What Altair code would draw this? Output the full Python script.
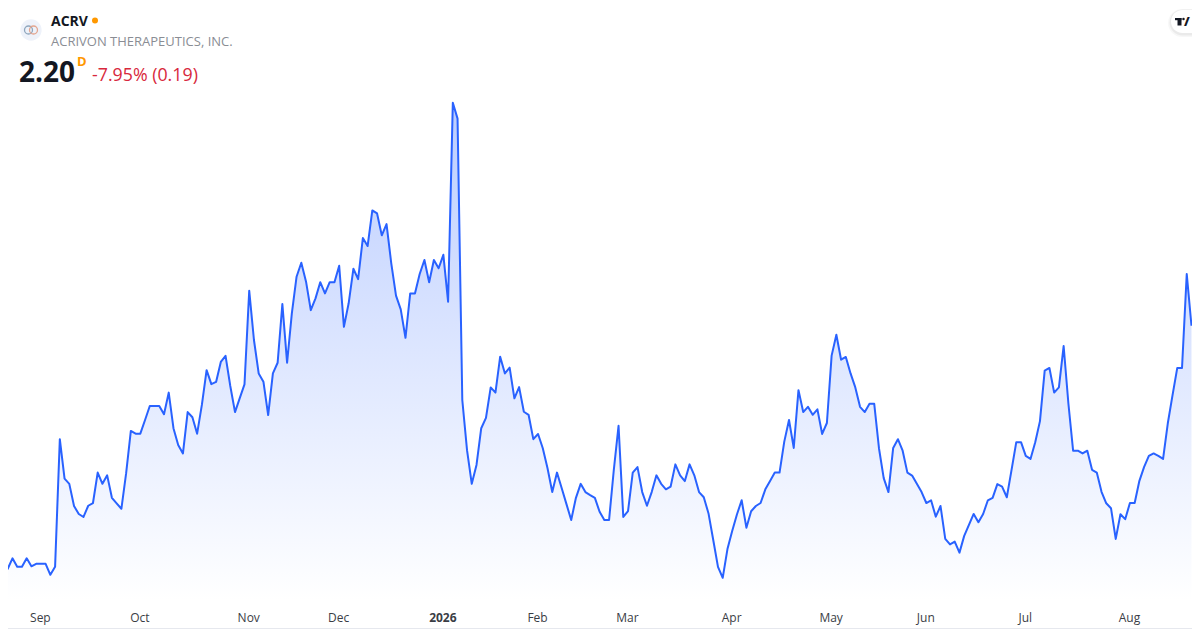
import altair as alt
import pandas as pd

prices = [
1.295,1.314,1.352,1.321,1.321,1.352,1.323,1.332,1.332,1.332,1.292,1.321,1.787,1.643,1.624,1.543,1.514,1.503,1.544,1.554,
1.665,1.624,1.655,1.573,1.553,1.533,1.662,1.817,1.807,1.807,1.857,1.908,1.908,1.908,1.878,1.957,1.827,1.766,1.735,1.886,
1.867,1.807,1.912,2.039,1.988,1.996,2.069,2.091,1.981,1.886,1.937,1.987,2.329,2.149,2.027,1.997,1.875,2.027,2.066,2.280,
2.066,2.246,2.380,2.431,2.362,2.258,2.301,2.360,2.319,2.360,2.360,2.420,2.197,2.283,2.409,2.371,2.521,2.492,2.622,2.611,
2.531,2.572,2.429,2.311,2.261,2.157,2.319,2.319,2.390,2.441,2.360,2.441,2.411,2.460,2.289,3.015,2.957,1.930,1.747,1.624,
1.693,1.827,1.865,1.976,1.957,2.088,2.027,2.048,1.936,1.977,1.887,1.876,1.787,1.806,1.754,1.681,1.594,1.665,1.608,1.550,
1.492,1.573,1.624,1.594,1.583,1.573,1.522,1.492,1.492,1.675,1.836,1.503,1.524,1.665,1.685,1.594,1.544,1.594,1.655,1.624,
1.604,1.614,1.695,1.655,1.634,1.695,1.655,1.594,1.575,1.516,1.419,1.321,1.281,1.386,1.452,1.512,1.564,1.464,1.524,1.543,
1.554,1.604,1.634,1.665,1.665,1.778,1.857,1.755,1.966,1.886,1.905,1.876,1.896,1.806,1.846,2.092,2.168,2.077,2.087,2.027,
1.976,1.905,1.886,1.916,1.916,1.754,1.645,1.594,1.755,1.787,1.745,1.665,1.654,1.624,1.594,1.554,1.564,1.504,1.543,1.423,
1.403,1.413,1.373,1.434,1.474,1.514,1.484,1.514,1.564,1.573,1.623,1.614,1.575,1.675,1.776,1.776,1.726,1.715,1.776,1.853,
2.037,2.047,1.957,1.976,2.127,1.918,1.745,1.745,1.735,1.745,1.675,1.665,1.595,1.553,1.535,1.423,1.513,1.495,1.554,1.554,
1.635,1.686,1.726,1.735,1.726,1.715,1.845,1.948,2.047,2.047,2.390,2.201,
]
tick_days = [8, 29, 52, 71, 93, 113, 132, 154, 175, 195, 216, 238]
tick_labels = ["Sep", "Oct", "Nov", "Dec", "2026", "Feb", "Mar", "Apr", "May", "Jun", "Jul", "Aug"]

df = pd.DataFrame({"day": range(len(prices)), "price": prices})
W, H = 1184, 592
label_expr = "{" + ",".join(f"'{d}':'{l}'" for d, l in zip(tick_days, tick_labels)) + "}[''+datum.value]"

x = alt.X("day:Q", scale=alt.Scale(domain=[1.056, 251.11], nice=False, zero=False),
          axis=alt.Axis(values=tick_days, labelExpr=label_expr, title=None, grid=False, ticks=False, domain=False,
                        labelPadding=17.5, labelBaseline="middle", labelFont="Open Sans", labelFontSize=12,
                        labelColor="#3a3d45", labelOverlap=False, labelFlush=False, labelOffset=-1,
                        labelFontWeight=alt.condition("datum.value == 93", alt.value(700), alt.value(400))))
y = alt.Y("price:Q", scale=alt.Scale(domain=[1.2, 3.3608], nice=False, zero=False), axis=None, stack=False)

area = alt.Chart(df).mark_area(
    line=False,
    opacity=1,
    color=alt.Gradient(gradient="linear", x1=1, x2=1, y1=0, y2=1, stops=[
        alt.GradientStop(color="#bbcdff", offset=0),
        alt.GradientStop(color="#ffffff", offset=1),
    ]),
).encode(x=x, y=y, y2=alt.value(H))
line = alt.Chart(df).mark_line(color="#2962ff", strokeWidth=2, strokeJoin="round").encode(x=x, y=y)


def px(v):
    return alt.value(v - 8)


one = alt.Data(values=[{"a": 1}])


def text(s, x0, y0, **kw):
    return alt.Chart(one).mark_text(text=s, align="left", baseline="middle", font="Open Sans", **kw).encode(
        x=px(x0), y=px(y0))


def dot(x0, y0, size, **kw):
    return alt.Chart(one).mark_point(shape="circle", size=size, **kw).encode(x=px(x0), y=px(y0))


def box(x0, x1, y0, y1, **kw):
    return alt.Chart(one).mark_rect(**kw).encode(x=px(x0), x2=px(x1), y=px(y0), y2=px(y1))


deco = [
    dot(31, 30, 452, filled=True, color="#eef2fa", opacity=1),
    dot(28.5, 30, 64, filled=False, color="#8fa6bd", strokeWidth=1.3, opacity=1),
    dot(33.5, 30, 64, filled=False, color="#e3a58f", strokeWidth=1.3, opacity=1),
    text("ACRV", 51, 22, fontSize=14, fontWeight=700, color="#131722"),
    dot(95, 20.5, 36, filled=True, color="#ff9800", opacity=1),
    text("ACRIVON THERAPEUTICS, INC.", 51, 41.5, fontSize=13, color="#8a8d94"),
    text("2.20", 19, 74, fontSize=28, fontWeight=700, color="#131722"),
    text("D", 77, 62, fontSize=13, fontWeight=700, color="#ff9800"),
    text("-7.95% (0.19)", 92, 75.5, fontSize=17.8, color="#d8283c"),
    box(1168, 1230, 9, 37, color="#000000", opacity=0.03, cornerRadius=14),
    box(1169.5, 1230, 9.5, 35.5, color="#000000", opacity=0.05, cornerRadius=13),
    box(1171, 1230, 10, 33, color="#ffffff", cornerRadius=11.5),
    box(1175, 1181.5, 18, 20.2, color="#131722"),
    box(1177.5, 1181.5, 18, 25.5, color="#131722"),
    dot(1183.5, 19, 6, filled=True, color="#131722", opacity=1),
    text("/", 1184, 21.5, fontSize=13, fontWeight=800, color="#131722"),
    alt.Chart(one).mark_rule(color="#e6e8ee", strokeWidth=1).encode(x=px(0), x2=px(1200), y=px(628.5)),
]

chart = alt.layer(area, line, *deco).properties(
    width=W, height=H,
    padding={"left": 0, "top": 0, "right": 0, "bottom": 29},
    autosize=alt.AutoSizeParams(type="none"),
    background="#ffffff",
).configure_view(stroke=None)

chart.save("out.html", embed_options={"renderer": "svg", "actions": False})
